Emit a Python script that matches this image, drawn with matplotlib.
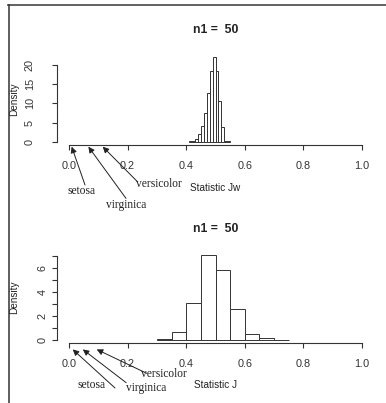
import numpy as np
import matplotlib.pyplot as plt
from matplotlib.lines import Line2D

# histogram of Jw (bin width 0.01)
jw_edges = np.round(np.arange(0.41, 0.551, 0.01), 2)
jw_density = [0.1, 0.2, 0.8, 2.0, 4.2, 7.4, 12.6, 18.4, 22.2, 18.4, 10.5, 3.9, 0.3, 0.1]

# histogram of J (bin width 0.05)
j_edges = np.round(np.arange(0.30, 0.751, 0.05), 2)
j_density = [0.05, 0.64, 3.1, 7.05, 5.83, 2.6, 0.5, 0.17, 0.03]

species = ["setosa", "virginica", "versicolor"]
jw_values = [0.009, 0.066, 0.115]
j_values = [0.0126, 0.047, 0.0945]

W, H = 386, 403
fig = plt.figure(figsize=(W / 100, H / 100), dpi=100)
sans = "Liberation Sans"
serif = "Liberation Serif"


def px_axes(left, top, right, bottom):
    return fig.add_axes([left / W, 1 - bottom / H, (right - left) / W, (bottom - top) / H])


def style(ax, ylim, yticks, ylabels, ymax_line, ypad):
    ax.set_xlim(-0.04, 1.04)
    ax.set_ylim(*ylim)
    for s in ["top", "right"]:
        ax.spines[s].set_visible(False)
    ax.spines["bottom"].set_bounds(0, 1)
    ax.spines["left"].set_bounds(0, ymax_line)
    for s in ["bottom", "left"]:
        ax.spines[s].set_color("#333333")
        ax.spines[s].set_linewidth(0.8)
    ax.set_xticks(np.arange(0, 1.01, 0.2))
    ax.set_xticklabels([f"{v:.1f}" for v in np.arange(0, 1.01, 0.2)])
    ax.set_yticks(yticks)
    ax.set_yticklabels(ylabels, rotation=90, va="center")
    ax.tick_params(axis="both", length=3.6, width=0.8, color="#333333",
                   labelsize=7.8, labelcolor="#333333")
    ax.tick_params(axis="x", pad=7.9)
    ax.tick_params(axis="y", pad=ypad)
    for t in ax.get_xticklabels() + ax.get_yticklabels():
        t.set_family(sans)
    ax.set_ylabel("Density", fontsize=7.2, family=sans, color="#222222")
    ax.yaxis.set_label_coords(-0.121, 0.5)
    ax.text(0.5, 1.25, "n1 =  50", transform=ax.transAxes, ha="center", va="center",
            fontsize=8.8, fontweight="bold", family=sans, color="#222222")


def arrows(ax, heads, tails, texts):
    for name, h, t, tx in zip(species, heads, tails, texts):
        ax.annotate("", xy=h, xytext=t, annotation_clip=False,
                    arrowprops=dict(arrowstyle="-|>", mutation_scale=9, lw=0.7,
                                    color="#222222", shrinkA=0, shrinkB=0))
        ax.text(tx[0], tx[1], name, ha="center", va="center", fontsize=8.3,
                family=serif, color="#222222", clip_on=False)


# top panel
ax1 = px_axes(57.3, 53.2, 373.7, 145.1)
ax1.bar(jw_edges[:-1], jw_density, width=np.diff(jw_edges), align="edge",
        facecolor="white", edgecolor="#333333", linewidth=0.7)
style(ax1, (-0.89, 23.1), [0, 5, 10, 15, 20], ["0", "5", "10", "15", "20"], 20, 12.5)
ax1.text(0.5, -0.467, "Statistic Jw", transform=ax1.transAxes, ha="center", va="center",
         fontsize=7.2, family=sans, color="#222222")
arrows(ax1,
       [(v, -1.3) for v in jw_values],
       [(0.0546, -11.3), (0.1945, -14.8), (0.233, -10.4)],
       [(0.0433, -12.8), (0.196, -16.5), (0.307, -11.0)])

# bottom panel
ax2 = px_axes(57.3, 251.7, 373.7, 343.4)
ax2.bar(j_edges[:-1], j_density, width=np.diff(j_edges), align="edge",
        facecolor="white", edgecolor="#333333", linewidth=0.7)
style(ax2, (-0.28, 7.33), list(range(8)), ["0", "", "2", "", "4", "", "6", ""], 7, 3.5)
ax2.text(0.5, -0.454, "Statistic J", transform=ax2.transAxes, ha="center", va="center",
         fontsize=7.2, family=sans, color="#222222")
arrows(ax2,
       [(v, -0.78) for v in j_values],
       [(0.157, -3.98), (0.195, -3.54), (0.265, -2.76)],
       [(0.077, -3.73), (0.265, -3.96), (0.324, -2.82)])

# outer frame (top and left)
fig.add_artist(Line2D([8 / W, 1], [1 - 4.5 / H, 1 - 4.5 / H], color="#555555", lw=1.3))
fig.add_artist(Line2D([8.5 / W, 8.5 / W], [0, 1 - 4.5 / H], color="#333333", lw=1.1))

fig.savefig("out.png", dpi=100)
